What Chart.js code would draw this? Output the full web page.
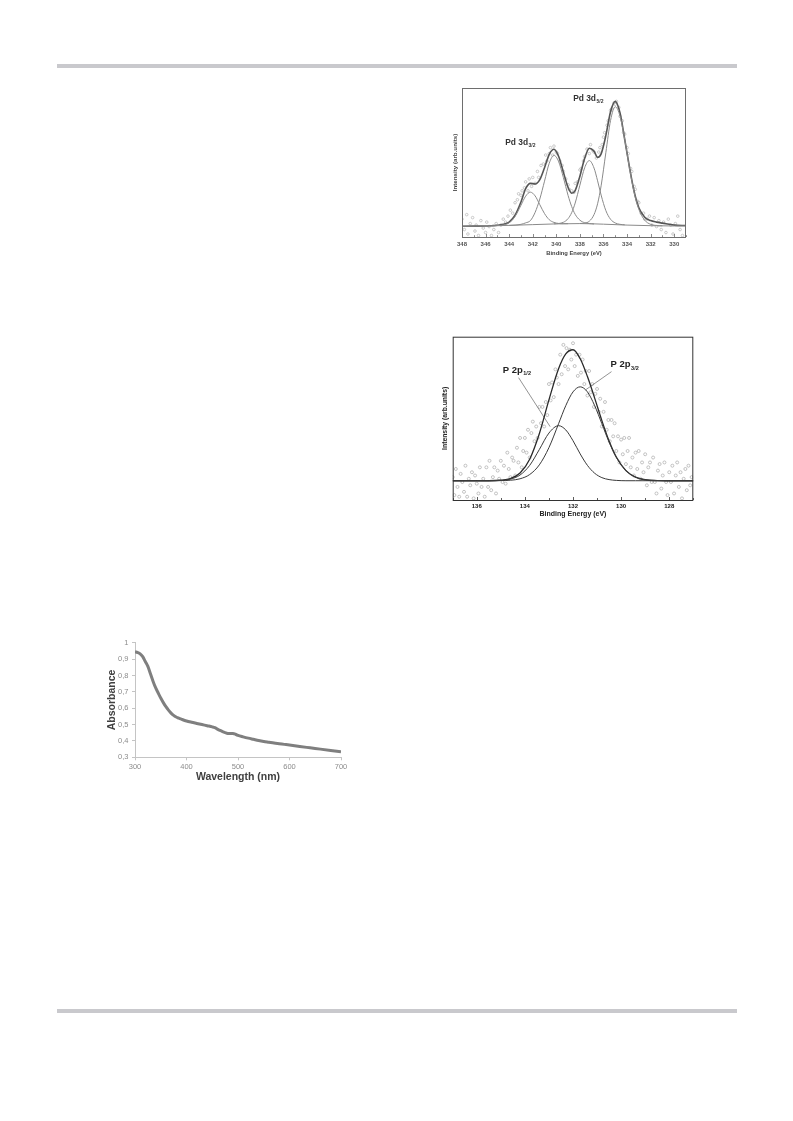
<!DOCTYPE html>
<html>
<head>
<meta charset="utf-8">
<script src="https://cdn.jsdelivr.net/npm/chart.js@4.4.1/dist/chart.umd.min.js"></script>
<style>
  html, body { margin: 0; padding: 0; background: #fff; }
  body { width: 793px; height: 1121px; position: relative; overflow: hidden; font-family: 'Liberation Sans', Arial, sans-serif; }
  .bar { position: absolute; left: 57px; width: 680px; height: 4px; background: #c9c9cd; }
  .box { position: absolute; }
  .box canvas { display: block; }
</style>
</head>
<body>
<div class="bar" style="top:64px"></div>
<div class="bar" style="top:1009px"></div>

<div class="box" style="left:440px; top:80px;"><canvas id="pdChart" width="255" height="185"></canvas></div>
<div class="box" style="left:436px; top:328px;"><canvas id="pChart" width="262" height="196"></canvas></div>
<div class="box" style="left:95px; top:632px;"><canvas id="uvChart" width="255" height="160"></canvas></div>

<script>
// ---- Pd 3d 스펙트럼 ----
const pdBgX = [348, 346, 344, 342, 340, 338, 336, 334, 332, 330, 329];
const pdBgY = [7.2, 7.4, 7.8, 8.3, 8.8, 9.0, 8.6, 8.0, 7.6, 7.4, 7.4];

const pdEnvX = [348, 347, 346, 345.5, 345, 344.5, 344, 343.5, 343, 342.6, 342.2, 341.8, 341.4, 341, 340.6, 340.2, 339.8, 339.4, 339, 338.7, 338.4, 338, 337.6, 337.2, 336.8, 336.5, 336.2, 335.8, 335.4, 335, 334.6, 334.2, 333.8, 333.4, 333, 332.5, 332, 331.5, 331, 330, 329];
const pdEnvY = [7.2, 7.3, 7.4, 7.6, 7.85, 8.5, 10.05, 14.6, 23.5, 32.5, 36.0, 35.6, 38.5, 46.5, 55.5, 58.9, 54.0, 43.5, 33.2, 29.4, 31.2, 40.8, 52.7, 59.6, 57.5, 53.5, 55.8, 68.0, 84.1, 91.0, 83.4, 65.6, 47.0, 30.5, 19.6, 13.25, 11.0, 10.0, 9.3, 8.0, 7.7];

const pdAX = [345, 344.5, 344, 343.5, 343, 342.6, 342.2, 341.8, 341.4, 341, 340.6, 340.2, 339.8, 339.4, 339];
const pdAY = [7.65, 8.05, 9.54, 13.77, 21.3, 27.4, 30.1, 27.6, 21.7, 15.7, 11.6, 9.8, 9.1, 8.95, 8.95];
const pdBX = [344, 343.5, 343, 342.6, 342.2, 341.8, 341.4, 341, 340.6, 340.2, 339.8, 339.4, 339, 338.7, 338.4, 338, 337.6, 337.2, 336.8];
const pdBY = [7.8, 8.0, 8.5, 9.5, 11.0, 16.5, 25.5, 37.5, 49.5, 54.8, 50.55, 39.9, 27.85, 20.5, 15.2, 11.3, 9.6, 9.0, 8.75];
const pdCX = [340.2, 339.8, 339.4, 339, 338.7, 338.4, 338, 337.6, 337.2, 336.8, 336.5, 336.2, 335.8, 335.4, 335, 334.6, 334.2];
const pdCY = [8.84, 9.07, 9.87, 12.35, 16.3, 22.8, 34.8, 46.4, 51.3, 46.25, 37.7, 28.15, 17.75, 11.9, 9.4, 8.5, 8.2];
const pdDX = [338, 337.6, 337.2, 336.8, 336.5, 336.2, 335.8, 335.4, 335, 334.6, 334.2, 333.8, 333.4, 333, 332.5, 332, 331.5, 331];
const pdDY = [9.07, 9.3, 10.6, 15.05, 22.3, 34.35, 56.55, 78.2, 87.4, 81.2, 65.6, 46.5, 30, 18.6, 11.25, 8.5, 7.72, 7.5];

const pdPtsX = [348.0, 347.8, 347.6, 347.5, 347.3, 347.1, 346.9, 346.8, 346.6, 346.4, 346.2, 346.0, 345.9, 345.7, 345.5, 345.3, 345.1, 344.9, 344.7, 344.5, 344.3, 344.1, 343.9, 343.7, 343.5, 343.3, 343.2, 343.0, 342.9, 342.7, 342.6, 342.4, 342.3, 342.1, 342.0, 341.8, 341.6, 341.5, 341.3, 341.1, 340.9, 340.8, 340.6, 340.5, 340.3, 340.2, 340.0, 339.9, 339.7, 339.5, 339.4, 339.2, 339.0, 338.9, 338.7, 338.5, 338.4, 338.2, 338.0, 337.9, 337.7, 337.6, 337.4, 337.2, 337.1, 336.9, 336.8, 336.6, 336.4, 336.3, 336.1, 336.0, 335.9, 335.7, 335.6, 335.4, 335.3, 335.1, 335.0, 334.9, 334.7, 334.6, 334.4, 334.3, 334.2, 334.0, 333.9, 333.7, 333.6, 333.4, 333.3, 333.1, 333.0, 332.8, 332.6, 332.5, 332.3, 332.1, 331.9, 331.7, 331.5, 331.3, 331.1, 330.9, 330.7, 330.5, 330.3, 330.1, 329.9, 329.7, 329.5, 329.3];
const pdPtsY = [12, 5, 15, 2, 9, 13, 4, 8, 1, 11, 6, 3, 10, 7, 1, 5, 9, 3, 8, 12, 10, 14, 18, 16, 23, 25, 29, 28, 31, 33, 37, 31, 39, 34, 40, 36, 44, 40, 48, 49, 55, 51, 56, 60, 55, 61, 57, 56, 51, 48, 44, 39, 35, 32, 31, 30, 36, 37, 45, 46, 51, 54, 59, 56, 62, 58, 57, 53, 57, 60, 62, 67, 70, 75, 78, 85, 86, 90, 89, 91, 87, 81, 78, 70, 69, 60, 56, 46, 44, 34, 32, 24, 23, 16, 16, 12, 12, 14, 8, 13, 7, 11, 5, 10, 3, 12, 8, 2, 9, 14, 5, 1];

const pdLabelX = [338.57, 344.33];
const pdLabelY = [91.4, 61.8];
const pdLabelMain = ['Pd 3d', 'Pd 3d'];
const pdLabelSub = ['5/2', '3/2'];

// ---- P 2p 스펙트럼 ----
const pX = [137, 136, 135.5, 135, 134.6, 134.2, 133.8, 133.4, 133, 132.6, 132.3, 132, 131.7, 131.4, 131.1, 130.8, 130.5, 130.2, 129.8, 129.4, 129, 128.5, 128, 127];
const p12Y = [11.8, 11.8, 11.8, 12.0, 12.8, 15.3, 21.2, 30.9, 41.0, 45.5, 42.9, 36.3, 28.2, 21.2, 16.4, 13.7, 12.5, 12.0, 11.8, 11.8, 11.8, 11.8, 11.8, 11.8];
const p32Y = [11.8, 11.8, 11.8, 11.9, 12.1, 13.0, 15.6, 21.5, 32.1, 46.7, 57.8, 66.2, 69.3, 66.2, 57.8, 46.7, 35.4, 26.1, 18.0, 14.0, 12.4, 11.9, 11.8, 11.8];
const pEnvY = [11.8, 11.8, 11.8, 12.1, 13.1, 16.5, 25.0, 40.6, 61.3, 80.4, 89.5, 92.0, 86.5, 75.6, 62.4, 48.6, 36.1, 26.3, 18.0, 14.0, 12.4, 11.9, 11.8, 11.8];

const pPtsX = [137.0, 136.93, 136.87, 136.8, 136.73, 136.67, 136.6, 136.53, 136.47, 136.4, 136.33, 136.27, 136.2, 136.13, 136.07, 136.0, 135.93, 135.87, 135.8, 135.73, 135.67, 135.6, 135.53, 135.47, 135.4, 135.33, 135.27, 135.2, 135.13, 135.07, 135.0, 134.93, 134.87, 134.8, 134.73, 134.67, 134.6, 134.53, 134.47, 134.4, 134.33, 134.27, 134.2, 134.13, 134.07, 134.0, 133.93, 133.87, 133.8, 133.73, 133.67, 133.6, 133.53, 133.47, 133.4, 133.33, 133.27, 133.2, 133.13, 133.07, 133.0, 132.93, 132.87, 132.8, 132.73, 132.67, 132.6, 132.53, 132.47, 132.4, 132.33, 132.27, 132.2, 132.13, 132.07, 132.0, 131.93, 131.87, 131.8, 131.73, 131.67, 131.6, 131.53, 131.47, 131.4, 131.33, 131.27, 131.2, 131.13, 131.07, 131.0, 130.93, 130.87, 130.8, 130.73, 130.67, 130.6, 130.53, 130.47, 130.4, 130.33, 130.27, 130.2, 130.13, 130.07, 130.0, 129.93, 129.87, 129.8, 129.73, 129.67, 129.6, 129.53, 129.47, 129.4, 129.33, 129.27, 129.2, 129.13, 129.07, 129.0, 128.93, 128.87, 128.8, 128.73, 128.67, 128.6, 128.53, 128.47, 128.4, 128.33, 128.27, 128.2, 128.13, 128.07, 128.0, 127.93, 127.87, 127.8, 127.73, 127.67, 127.6, 127.53, 127.47, 127.4, 127.33, 127.27, 127.2, 127.13, 127.07];
const pPtsY = [14, 3, 19, 8, 2, 16, 11, 5, 21, 2, 13, 9, 17, 1, 15, 10, 4, 20, 8, 13, 2, 20, 8, 24, 6, 14, 20, 4, 18, 13, 24, 11, 21, 10, 29, 19, 14, 26, 24, 15, 32, 23, 38, 20, 30, 38, 29, 43, 26, 41, 48, 36, 45, 38, 57, 47, 57, 45, 60, 52, 71, 61, 72, 63, 80, 75, 71, 89, 77, 95, 82, 93, 80, 92, 86, 96, 82, 89, 76, 89, 78, 86, 71, 79, 64, 79, 66, 71, 57, 65, 68, 54, 62, 45, 54, 60, 43, 49, 36, 49, 39, 47, 30, 39, 23, 37, 28, 38, 22, 30, 38, 20, 26, 15, 29, 19, 30, 13, 23, 17, 28, 9, 20, 23, 11, 26, 11, 4, 18, 22, 7, 15, 23, 11, 3, 17, 11, 21, 4, 15, 23, 8, 17, 1, 13, 19, 6, 21, 9, 14];

const pLabelX = [134.92, 130.44];
const pLabelY = [77.9, 81.2];
const pLabelMain = ['P 2p', 'P 2p'];
const pLabelSub = ['1/2', '3/2'];
const pLead12X = [134.26, 132.95];
const pLead12Y = [74.9, 44.9];
const pLead32X = [130.4, 131.48];
const pLead32Y = [78.6, 67.4];

// ---- UV-Vis 흡광도 ----
const uvX = [300, 305, 310, 315, 320, 325, 330, 335, 340, 345, 350, 355, 360, 365, 370, 375, 380, 385, 390, 400, 410, 420, 430, 440, 450, 455, 460, 465, 470, 475, 480, 490, 495, 500, 510, 520, 530, 540, 550, 560, 570, 580, 590, 600, 620, 640, 660, 680, 700];
const uvY = [0.945, 0.94, 0.932, 0.915, 0.885, 0.855, 0.81, 0.765, 0.725, 0.693, 0.662, 0.634, 0.609, 0.588, 0.57, 0.556, 0.546, 0.539, 0.533, 0.522, 0.514, 0.507, 0.5, 0.493, 0.486, 0.481, 0.472, 0.464, 0.457, 0.451, 0.446, 0.445, 0.441, 0.434, 0.425, 0.417, 0.41, 0.403, 0.397, 0.392, 0.387, 0.383, 0.379, 0.375, 0.366, 0.358, 0.35, 0.342, 0.334];

const FONT = "'Liberation Sans', Arial, sans-serif";
const pts = (xs, ys) => xs.map((x, i) => ({ x: x, y: ys[i] }));

// 플롯 테두리
const framePlugin = {
  id: 'frame',
  afterDraw(chart, args, opts) {
    if (!opts.color) return;
    const a = chart.chartArea;
    const ctx = chart.ctx;
    ctx.save();
    ctx.strokeStyle = opts.color;
    ctx.lineWidth = opts.width || 1;
    ctx.strokeRect(a.left + 0.5, a.top + 0.5, a.right - a.left - 1, a.bottom - a.top);
    ctx.restore();
  }
};

// 안쪽 눈금
const inTicksPlugin = {
  id: 'inTicks',
  afterDraw(chart, args, opts) {
    if (!opts.color) return;
    const sx = chart.scales.x;
    const a = chart.chartArea;
    const ctx = chart.ctx;
    ctx.save();
    ctx.strokeStyle = opts.color;
    ctx.lineWidth = 0.8;
    sx.ticks.forEach(t => {
      const px = Math.round(sx.getPixelForValue(t.value)) + 0.5;
      const len = t.label !== '' ? opts.major : opts.minor;
      ctx.beginPath();
      ctx.moveTo(px, a.bottom);
      ctx.lineTo(px, a.bottom - len);
      ctx.stroke();
    });
    ctx.restore();
  }
};

// 피크 라벨 (아래첨자 포함)
const peakLabelPlugin = {
  id: 'peakLabels',
  afterDraw(chart, args, opts) {
    if (!opts.xs) return;
    const ctx = chart.ctx;
    const sx = chart.scales.x, sy = chart.scales.y;
    ctx.save();
    ctx.fillStyle = opts.color;
    ctx.textBaseline = 'alphabetic';
    opts.xs.forEach((v, i) => {
      const px = sx.getPixelForValue(v);
      const py = sy.getPixelForValue(opts.ys[i]);
      ctx.font = 'bold ' + opts.size + 'px ' + FONT;
      ctx.fillText(opts.main[i], px, py);
      const w = ctx.measureText(opts.main[i]).width;
      ctx.font = 'bold ' + opts.subSize + 'px ' + FONT;
      ctx.fillText(opts.sub[i], px + w + 0.5, py + opts.subDrop);
    });
    ctx.restore();
  }
};

Chart.register(framePlugin, inTicksPlugin, peakLabelPlugin);

function xpsAxes(cfg) {
  return {
    x: {
      type: 'linear', min: cfg.min, max: cfg.max, reverse: true,
      afterFit: s => { s.height = cfg.xh; },
      grid: { display: false, drawTicks: false, tickLength: 0 }, border: { display: false },
      ticks: {
        stepSize: 1, includeBounds: false, autoSkip: false, maxRotation: 0,
        padding: cfg.tickPad, color: cfg.tickColor,
        font: { family: FONT, size: cfg.tickSize, weight: 'bold' },
        callback: v => (v % 2 === 0 ? String(v) : '')
      },
      title: {
        display: true, text: 'Binding Energy (eV)', color: cfg.titleColor,
        font: { family: FONT, size: cfg.xTitleSize, weight: 'bold' },
        padding: { top: 0, bottom: cfg.xTitlePad }
      }
    },
    y: {
      min: 0, max: 100,
      afterFit: s => { s.width = cfg.yw; },
      grid: { display: false, drawTicks: false, tickLength: 0 }, border: { display: false },
      ticks: { display: false },
      title: {
        display: true, text: 'Intensity (arb.units)', color: cfg.titleColor,
        font: { family: FONT, size: cfg.yTitleSize, weight: 'bold' },
        padding: { top: cfg.yTitlePad, bottom: 0 }
      }
    }
  };
}

function curve(xs, ys, color, width) {
  return {
    type: 'line', data: pts(xs, ys), borderColor: color, borderWidth: width,
    pointRadius: 0, fill: false, cubicInterpolationMode: 'monotone', order: 1
  };
}

function cloud(xs, ys, color, r) {
  return {
    type: 'scatter', data: pts(xs, ys), showLine: false,
    pointRadius: r, pointBorderWidth: 0.7, pointBorderColor: color,
    pointBackgroundColor: 'rgba(255,255,255,0)', order: 2
  };
}

// 🔹 Pd 3d
new Chart(document.getElementById('pdChart').getContext('2d'), {
  type: 'line',
  data: {
    datasets: [
      cloud(pdPtsX, pdPtsY, '#b4b4b4', 1.3),
      curve(pdBgX, pdBgY, '#8a8a8a', 1),
      curve(pdAX, pdAY, '#8a8a8a', 1),
      curve(pdBX, pdBY, '#8a8a8a', 1),
      curve(pdCX, pdCY, '#8a8a8a', 1),
      curve(pdDX, pdDY, '#8a8a8a', 1),
      curve(pdEnvX, pdEnvY, '#555555', 1.6)
    ]
  },
  options: {
    responsive: false, animation: false, devicePixelRatio: 1,
    layout: { padding: { top: 8, right: 9, left: 0, bottom: 0 } },
    scales: xpsAxes({
      min: 329, max: 348, xh: 28, yw: 22, tickPad: 4, tickColor: '#555', tickSize: 6,
      titleColor: '#444', xTitleSize: 5.8, xTitlePad: 7.9, yTitleSize: 6.2, yTitlePad: 11.3
    }),
    plugins: {
      legend: { display: false }, tooltip: { enabled: false },
      frame: { color: '#6e6e6e', width: 1 },
      inTicks: { color: '#6e6e6e', major: 3, minor: 1.8 },
      peakLabels: { xs: pdLabelX, ys: pdLabelY, main: pdLabelMain, sub: pdLabelSub, color: '#333', size: 8.4, subSize: 5, subDrop: 2 }
    }
  }
});

// 🔹 P 2p
new Chart(document.getElementById('pChart').getContext('2d'), {
  type: 'line',
  data: {
    datasets: [
      cloud(pPtsX, pPtsY, '#ababab', 1.5),
      curve(pX, p12Y, '#3a3a3a', 1),
      curve(pX, p32Y, '#3a3a3a', 1),
      curve(pX, pEnvY, '#2a2a2a', 1.3),
      curve(pLead12X, pLead12Y, '#666', 0.7),
      curve(pLead32X, pLead32Y, '#666', 0.7)
    ]
  },
  options: {
    responsive: false, animation: false, devicePixelRatio: 1,
    layout: { padding: { top: 8.7, right: 2, left: 0, bottom: 0 } },
    scales: xpsAxes({
      min: 127, max: 137, xh: 24, yw: 16.7, tickPad: 2.7, tickColor: '#222', tickSize: 6,
      titleColor: '#222', xTitleSize: 7, xTitlePad: 5.5, yTitleSize: 6.8, yTitlePad: 4.9
    }),
    plugins: {
      legend: { display: false }, tooltip: { enabled: false },
      frame: { color: '#333', width: 1 },
      inTicks: { color: '#333', major: 3, minor: 2 },
      peakLabels: { xs: pLabelX, ys: pLabelY, main: pLabelMain, sub: pLabelSub, color: '#222', size: 9.5, subSize: 5.5, subDrop: 2.5 }
    }
  }
});

// 🔹 UV-Vis
new Chart(document.getElementById('uvChart').getContext('2d'), {
  type: 'line',
  data: {
    datasets: [{
      data: pts(uvX, uvY), borderColor: '#7f7f7f', borderWidth: 3,
      pointRadius: 0, fill: false, cubicInterpolationMode: 'monotone'
    }]
  },
  options: {
    responsive: false, animation: false, devicePixelRatio: 1,
    layout: { padding: { top: 10.7, right: 9, left: 0, bottom: 0 } },
    scales: {
      x: {
        type: 'linear', min: 300, max: 700,
        afterFit: s => { s.height = 34.7; },
        grid: { display: true, drawOnChartArea: false, drawTicks: true, tickLength: 3, color: '#c4c4c4' },
        border: { color: '#c4c4c4' },
        ticks: { stepSize: 100, padding: 2, color: '#8c8c8c', font: { family: FONT, size: 7.5 }, maxRotation: 0 },
        title: {
          display: true, text: 'Wavelength (nm)', color: '#404040',
          font: { family: FONT, size: 10.5, weight: 'bold' },
          padding: { top: 0, bottom: 9 }
        }
      },
      y: {
        min: 0.3, max: 1,
        afterFit: s => { s.width = 40; },
        grid: { display: true, drawOnChartArea: false, drawTicks: true, tickLength: 3, color: '#c4c4c4' },
        border: { color: '#c4c4c4' },
        ticks: {
          stepSize: 0.1, padding: 3.5, color: '#8c8c8c', font: { family: FONT, size: 7.5 },
          callback: v => (Math.abs(v - 1) < 1e-6 ? '1' : v.toFixed(1).replace('.', ','))
        },
        title: {
          display: true, text: 'Absorbance', color: '#404040',
          font: { family: FONT, size: 10.5, weight: 'bold' },
          padding: { top: 10.5, bottom: 0 }
        }
      }
    },
    plugins: { legend: { display: false }, tooltip: { enabled: false } }
  }
});
</script>
</body>
</html>
